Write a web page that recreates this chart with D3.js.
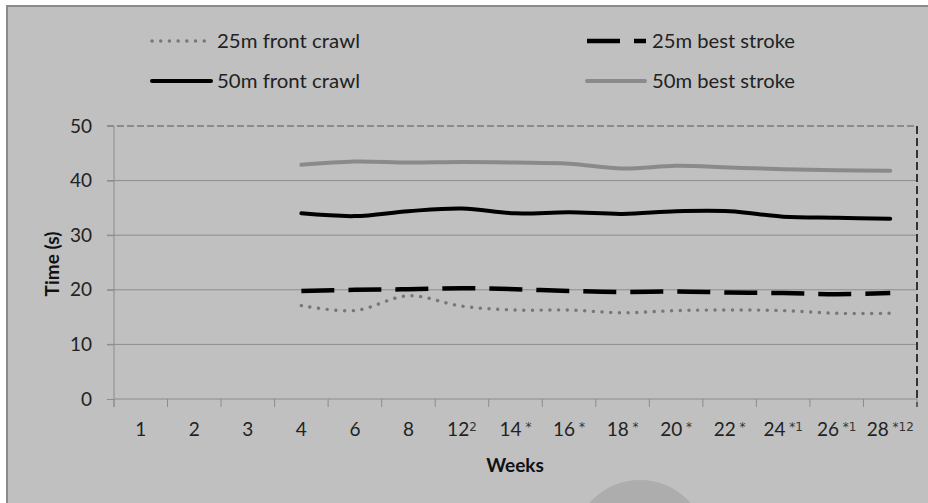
<!DOCTYPE html>
<html>
<head>
<meta charset="utf-8">
<script src="https://cdn.jsdelivr.net/npm/d3@7/dist/d3.min.js"></script>
<style>
  html, body { margin: 0; padding: 0; background: #ffffff; }
  svg { display: block; }
  text { font-family: Lato, "Open Sans", "DejaVu Sans", sans-serif; }
</style>
</head>
<body>
<svg id="chart" width="928" height="503"></svg>
<script>
// Training weeks (category axis) and the marks shown after some of them
const weekLabels = ["1", "2", "3", "4", "6", "8", "12", "14", "16", "18", "20", "22", "24", "26", "28"];
const weekMarks  = ["", "", "", "", "", "", "2", "*", "*", "*", "*", "*", "*1", "*1", "*12"];
const markGap    = ["", "", "", "", "", "", "", " ", " ", " ", " ", " ", " ", " ", " "];

// Swim times in seconds (no measurement in weeks 1-3)
const frontCrawl25 = [null, null, null, 17.1, 16.2, 18.9, 17.0, 16.3, 16.3, 15.8, 16.2, 16.3, 16.2, 15.7, 15.7];
const bestStroke25 = [null, null, null, 19.8, 20.0, 20.1, 20.3, 20.1, 19.8, 19.6, 19.7, 19.5, 19.4, 19.2, 19.4];
const frontCrawl50 = [null, null, null, 34.0, 33.5, 34.4, 34.9, 34.0, 34.2, 33.9, 34.4, 34.4, 33.4, 33.2, 33.0];
const bestStroke50 = [null, null, null, 42.9, 43.5, 43.3, 43.4, 43.3, 43.1, 42.2, 42.7, 42.4, 42.1, 41.9, 41.8];

const seriesNames = ["25m front crawl", "25m best stroke", "50m front crawl", "50m best stroke"];
const yTicks = [0, 10, 20, 30, 40, 50];

(function drawChart() {
  const svg = d3.select("#chart");

  // Chart frame
  svg.append("rect")
    .attr("x", 7).attr("y", 6)
    .attr("width", 940).attr("height", 520)
    .attr("fill", "#c0c0c0")
    .attr("stroke", "#8a8a8a")
    .attr("stroke-width", 2);

  // Faint round shape near the bottom edge
  svg.append("circle")
    .attr("cx", 640).attr("cy", 547).attr("r", 67)
    .attr("fill", "#adadad");

  const plotLeft = 114, plotRight = 917, plotTop = 126, plotBottom = 399;

  const x = d3.scaleBand().domain(weekLabels).range([plotLeft, plotRight]).padding(0);
  const y = d3.scaleLinear().domain([0, 50]).range([plotBottom, plotTop]);

  // Horizontal gridlines
  svg.append("g")
    .selectAll("line")
    .data(yTicks.filter(d => d > 0 && d < 50))
    .join("line")
    .attr("x1", plotLeft - 7).attr("x2", plotRight)
    .attr("y1", d => y(d)).attr("y2", d => y(d))
    .attr("stroke", "#8c8c8c").attr("stroke-width", 1);

  // Dashed top and right plot borders
  svg.append("line")
    .attr("x1", plotLeft - 7).attr("x2", plotRight)
    .attr("y1", y(50)).attr("y2", y(50))
    .attr("stroke", "#555").attr("stroke-width", 1.2)
    .attr("stroke-dasharray", "7,3");
  svg.append("line")
    .attr("x1", plotRight).attr("x2", plotRight)
    .attr("y1", y(50)).attr("y2", plotBottom + 8)
    .attr("stroke", "#333").attr("stroke-width", 2)
    .attr("stroke-dasharray", "8,4");

  // Y axis
  const yAxis = svg.append("g")
    .attr("transform", `translate(${plotLeft},0)`)
    .call(d3.axisLeft(y).tickValues(yTicks).tickSize(7).tickPadding(15).tickSizeOuter(0));
  yAxis.select(".domain").attr("stroke", "#8c8c8c").attr("d", `M0,${y(50)}V${plotBottom + 8}`);
  yAxis.selectAll(".tick line").attr("stroke", "#8c8c8c");
  yAxis.selectAll(".tick text")
    .attr("font-size", 19).attr("fill", "#222")
    .attr("font-family", "Lato, sans-serif");

  // X axis
  const xAxis = svg.append("g")
    .attr("transform", `translate(0,${plotBottom})`)
    .call(d3.axisBottom(x).tickSize(0).tickPadding(0).tickSizeOuter(0));
  xAxis.select(".domain").attr("stroke", "#8c8c8c").attr("d", `M${plotLeft},0H${plotRight}`);
  xAxis.selectAll(".tick text").remove();
  xAxis.selectAll(".tick").each(function (d, i) {
    const t = d3.select(this).append("text")
      .attr("y", 37)
      .attr("text-anchor", "middle")
      .attr("fill", "#222")
      .attr("font-size", 19)
      .attr("font-family", "Lato, sans-serif");
    t.append("tspan").text(d);
    if (weekMarks[i]) {
      t.append("tspan").text(markGap[i]).attr("font-size", 15);
      t.append("tspan")
        .text(weekMarks[i])
        .attr("font-family", "'DejaVu Sans', sans-serif")
        .attr("font-size", 12)
        .attr("dy", -5)
        .attr("fill", "#333");
    }
  });

  // Band boundary tick marks
  const boundaries = weekLabels.map(d => x(d)).concat([plotRight]);
  svg.append("g")
    .selectAll("line")
    .data(boundaries)
    .join("line")
    .attr("x1", d => d).attr("x2", d => d)
    .attr("y1", plotBottom).attr("y2", plotBottom + 8)
    .attr("stroke", "#8c8c8c");

  // Axis titles
  svg.append("text")
    .attr("transform", `translate(52,264) rotate(-90)`)
    .attr("text-anchor", "middle")
    .attr("dy", "0.35em")
    .attr("font-size", 19).attr("font-weight", "bold").attr("fill", "#111")
    .text("Time (s)");
  svg.append("text")
    .attr("x", 515).attr("y", 465)
    .attr("text-anchor", "middle")
    .attr("dy", "0.35em")
    .attr("font-size", 19).attr("font-weight", "bold").attr("fill", "#111")
    .text("Weeks");

  // Series styles
  const styles = [
    { values: frontCrawl25, stroke: "#777777", width: 3.4, dash: "0.1,8.6", cap: "round" },
    { values: bestStroke25, stroke: "#000000", width: 4.5, dash: "33,14", cap: "butt" },
    { values: frontCrawl50, stroke: "#000000", width: 4, dash: null, cap: "round" },
    { values: bestStroke50, stroke: "#8a8a8a", width: 4, dash: null, cap: "round" }
  ];

  const line = d3.line()
    .defined(d => d.v != null)
    .x(d => x(d.w) + x.bandwidth() / 2)
    .y(d => y(d.v))
    .curve(d3.curveCatmullRom.alpha(0.5));

  const plotOrder = [3, 2, 1, 0];
  svg.append("g")
    .selectAll("path")
    .data(plotOrder.map(i => styles[i]))
    .join("path")
    .attr("d", s => line(weekLabels.map((w, i) => ({ w, v: s.values[i] }))))
    .attr("fill", "none")
    .attr("stroke", s => s.stroke)
    .attr("stroke-width", s => s.width)
    .attr("stroke-dasharray", s => s.dash)
    .attr("stroke-linecap", s => s.cap)
    .attr("stroke-linejoin", "round");

  // Legend
  const legendPos = [
    { x1: 152, x2: 207, y: 41, tx: 217 },
    { x1: 587, x2: 646, y: 41, tx: 652 },
    { x1: 152, x2: 211, y: 81, tx: 217 },
    { x1: 587, x2: 645, y: 81, tx: 652 }
  ];
  const legend = svg.append("g");
  styles.forEach((s, i) => {
    const p = legendPos[i];
    legend.append("line")
      .attr("x1", p.x1).attr("x2", p.x2)
      .attr("y1", p.y).attr("y2", p.y)
      .attr("stroke", s.stroke)
      .attr("stroke-width", s.width)
      .attr("stroke-dasharray", s.dash)
      .attr("stroke-linecap", s.cap);
    legend.append("text")
      .attr("x", p.tx).attr("y", p.y)
      .attr("dy", "0.35em")
      .attr("font-size", 20)
      .attr("fill", "#222")
      .attr("textLength", 143)
      .attr("lengthAdjust", "spacingAndGlyphs")
      .text(seriesNames[i]);
  });
})();
</script>
</body>
</html>
